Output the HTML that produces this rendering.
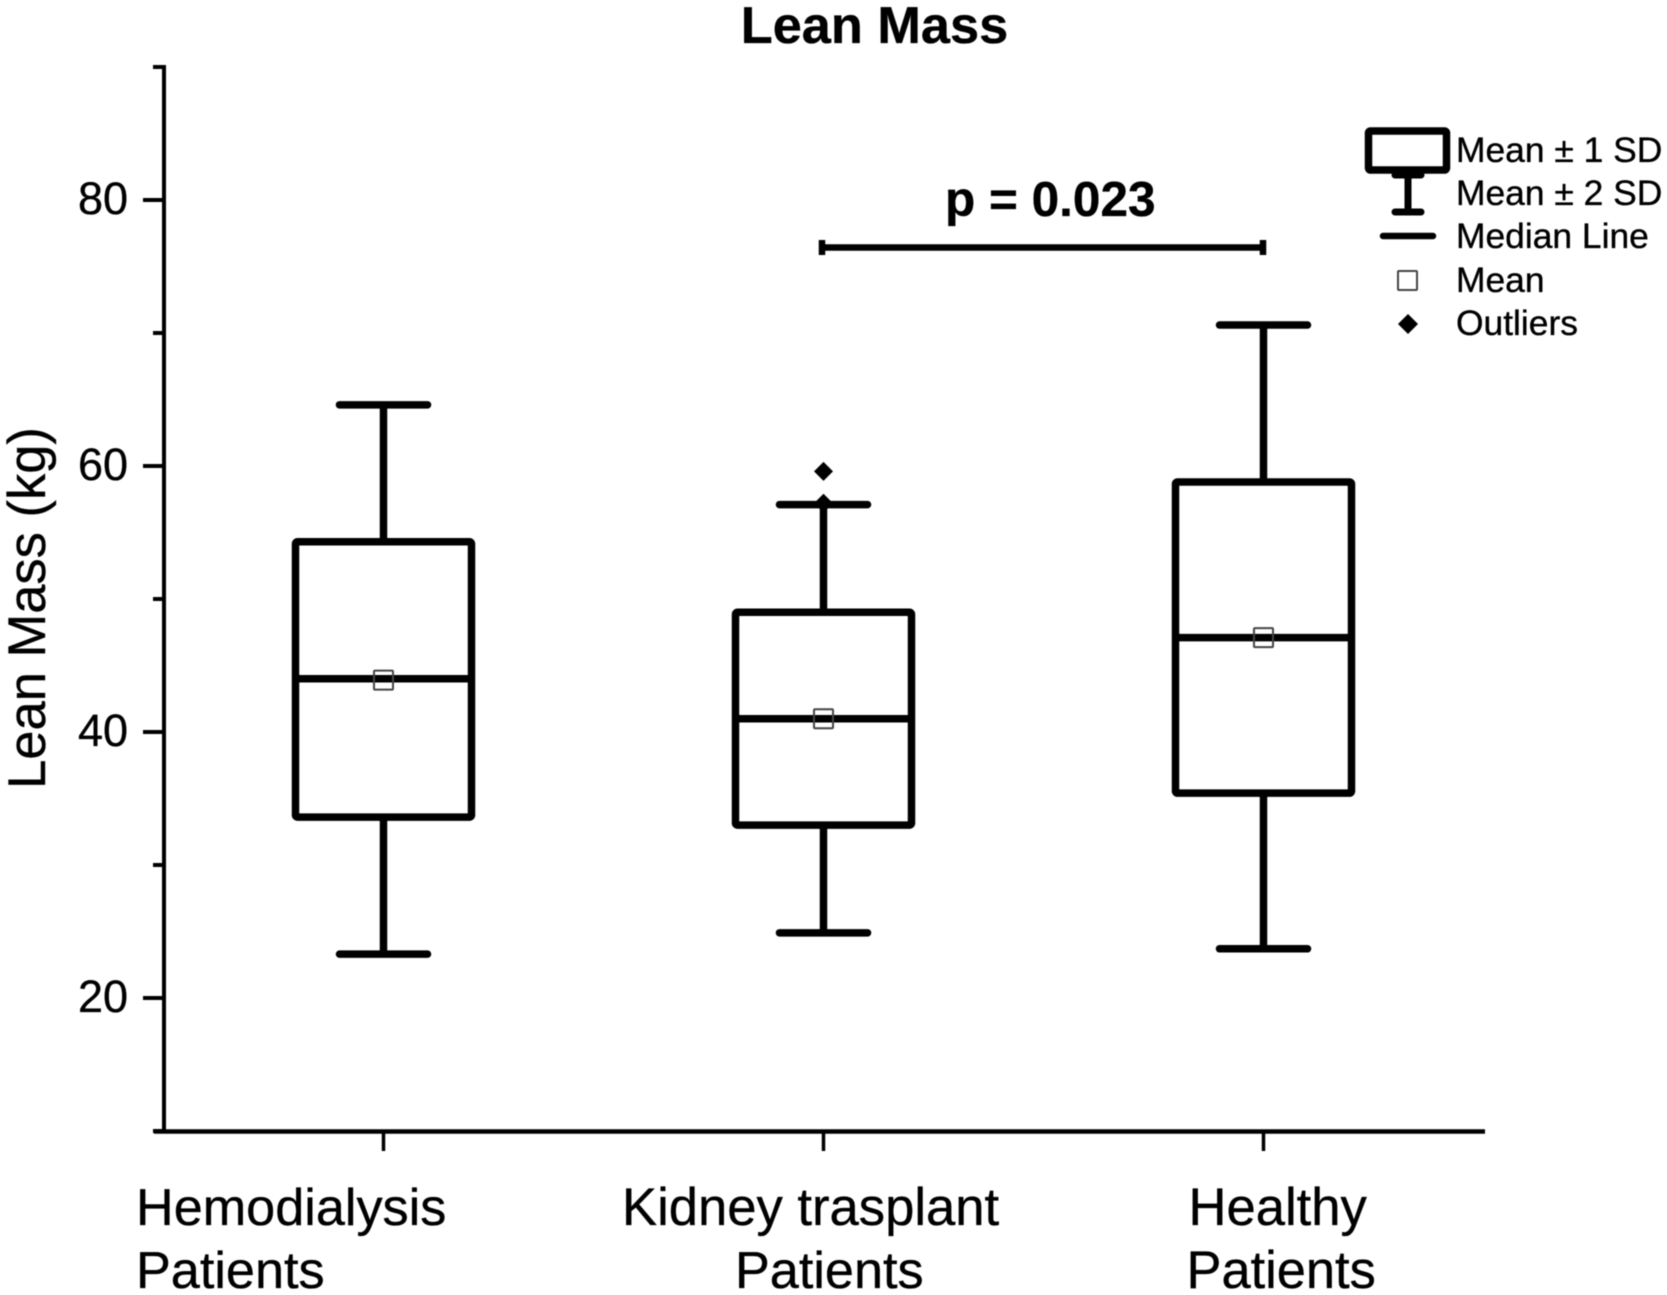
<!DOCTYPE html>
<html lang="en">
<head>
<meta charset="utf-8">
<title>Lean Mass</title>
<style>
html,body{margin:0;padding:0;background:#fff;}
svg{display:block;filter:blur(0.6px);}
text{font-family:"Liberation Sans",sans-serif;fill:#000;stroke:#000;stroke-width:0.35px;}
</style>
</head>
<body>
<svg id="chart" xmlns="http://www.w3.org/2000/svg" width="1667" height="1295" viewBox="0 0 1667 1295">
  <rect width="1667" height="1295" fill="#fff"/>
  <text x="874.5" y="43" font-size="52.3" font-weight="bold" text-anchor="middle">Lean Mass</text>
  <text transform="translate(45,608) rotate(-90)" font-size="52.5" text-anchor="middle">Lean Mass (kg)</text>
  <g id="axes"></g>
  <g id="boxes"></g>
  <g>
    <text x="945" y="216" font-size="49.5" font-weight="bold">p = 0.023</text>
    <path d="M822 247.5H1263M822 240V255M1263 240V255" stroke="#000" stroke-width="6.5" fill="none"/>
  </g>
  <g>
    <rect x="1368.5" y="131" width="78" height="39" rx="2" fill="none" stroke="#000" stroke-width="7.5"/>
    <path d="M1395 175H1421M1408 175V212M1395 212H1421" fill="none" stroke="#000" stroke-width="7" stroke-linecap="round"/>
    <path d="M1383 236H1433" fill="none" stroke="#000" stroke-width="6.5" stroke-linecap="round"/>
    <rect x="1398" y="271" width="19" height="19" rx="1" fill="#fff" stroke="#444" stroke-width="2"/>
    <path d="M1408 314L1418 324L1408 334L1398 324Z" fill="#000"/>
    <text x="1456" y="162" font-size="35.4">Mean ± 1 SD</text>
    <text x="1456" y="205" font-size="35.4">Mean ± 2 SD</text>
    <text x="1456" y="248" font-size="35.4">Median Line</text>
    <text x="1456" y="292" font-size="35.4">Mean</text>
    <text x="1456" y="335" font-size="35.4">Outliers</text>
  </g>
  <g>
    <text x="136" y="1225" font-size="52.2">Hemodialysis</text>
    <text x="136" y="1288" font-size="52.2">Patients</text>
    <text x="622" y="1225" font-size="52.6">Kidney trasplant</text>
    <text x="735" y="1288" font-size="52.2">Patients</text>
    <text x="1188.5" y="1225" font-size="52.6">Healthy</text>
    <text x="1186.5" y="1288" font-size="52.4">Patients</text>
  </g>
</svg>
<script>
const categories = ["Hemodialysis Patients", "Kidney trasplant Patients", "Healthy Patients"];
const whiskerHigh = [64.6, 57.1, 70.6];
const boxTop = [54.3, 49.0, 58.8];
const medians = [44.0, 41.0, 47.1];
const means = [43.9, 41.0, 47.1];
const boxBottom = [33.6, 33.0, 35.4];
const whiskerLow = [23.3, 24.9, 23.7];
const outlierValues = [[], [59.6, 57.2], []];
const majorTicks = [20, 40, 60, 80];
const minorTicks = [10, 30, 50, 70, 90];
const yMin = 10;
const yMax = 90;

const NS = "http://www.w3.org/2000/svg";
const yScale = v => 1131 - (v - yMin) * (1131 - 67) / (yMax - yMin);
const xScale = i => 383.5 + i * 440;
const HALF_BOX = 88;
const HALF_CAP = 44;
const INK = "#000";

function make(parent, tag, attrs) {
  const el = document.createElementNS(NS, tag);
  for (const k in attrs) el.setAttribute(k, attrs[k]);
  parent.appendChild(el);
  return el;
}

const axes = document.getElementById("axes");
const yAxisLine = make(axes, "line", {x1: 164, x2: 164, y1: yScale(yMax) - 2, y2: yScale(yMin), stroke: INK, "stroke-width": 4});


const xAxisLine = make(axes, "line", {x1: 154, x2: 1485, y1: 1131.5, y2: 1131.5, stroke: INK, "stroke-width": 4.5});



majorTicks.forEach(v => {
  const t = make(axes, "line", {x1: 143, x2: 164, y1: yScale(v), y2: yScale(v), stroke: INK, "stroke-width": 4});
  
  
  const l = make(axes, "text", {x: 128, y: yScale(v) + 14, "font-size": 45, "text-anchor": "end"});
  
  
  l.textContent = v;
});
minorTicks.forEach(v => {
  const t = make(axes, "line", {x1: 153, x2: 164, y1: yScale(v), y2: yScale(v), stroke: INK, "stroke-width": 4});
  
  
});
categories.forEach((c, i) => {
  const t = make(axes, "line", {x1: xScale(i), x2: xScale(i), y1: 1132, y2: 1151, stroke: INK, "stroke-width": 3.5});
  
  
});

const boxes = document.getElementById("boxes");
categories.forEach((c, i) => {
  const cx = xScale(i);
  const g = make(boxes, "g", {});
  
  

  const upper = make(g, "line", {x1: cx, x2: cx, y1: yScale(whiskerHigh[i]), y2: yScale(boxTop[i]), stroke: INK, "stroke-width": 7.5});
  
  
  const lower = make(g, "line", {x1: cx, x2: cx, y1: yScale(boxBottom[i]), y2: yScale(whiskerLow[i]), stroke: INK, "stroke-width": 7.5});
  
  
  const capHigh = make(g, "line", {x1: cx - HALF_CAP, x2: cx + HALF_CAP, y1: yScale(whiskerHigh[i]), y2: yScale(whiskerHigh[i]), stroke: INK, "stroke-width": 7.5, "stroke-linecap": "round"});
  
  
  const capLow = make(g, "line", {x1: cx - HALF_CAP, x2: cx + HALF_CAP, y1: yScale(whiskerLow[i]), y2: yScale(whiskerLow[i]), stroke: INK, "stroke-width": 7.5, "stroke-linecap": "round"});
  
  

  const box = make(g, "rect", {x: cx - HALF_BOX, y: yScale(boxTop[i]), width: HALF_BOX * 2, height: yScale(boxBottom[i]) - yScale(boxTop[i]), rx: 2, fill: "none", stroke: INK, "stroke-width": 7.5});
  
  
  const med = make(g, "line", {x1: cx - HALF_BOX, x2: cx + HALF_BOX, y1: yScale(medians[i]), y2: yScale(medians[i]), stroke: INK, "stroke-width": 7.5});
  
  
  const mean = make(g, "rect", {x: cx - 9.5, y: yScale(means[i]) - 9.5, width: 19, height: 19, rx: 1, fill: "none", stroke: "#444", "stroke-width": 2});
  
  

  outlierValues[i].forEach(v => {
    const y = yScale(v);
    const d = make(g, "path", {d: `M${cx} ${y - 9.5}L${cx + 9.5} ${y}L${cx} ${y + 9.5}L${cx - 9.5} ${y}Z`, fill: INK});
    
    
  });
});
</script>
</body>
</html>
